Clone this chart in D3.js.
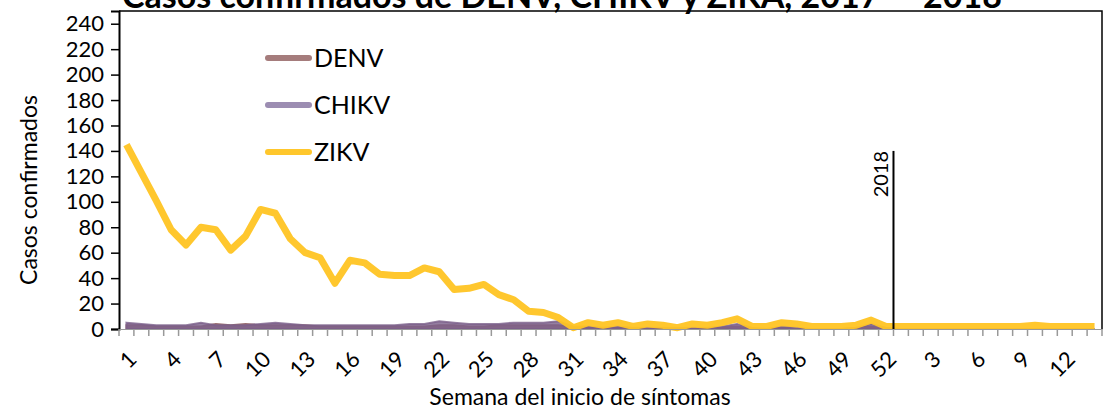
<!DOCTYPE html>
<html>
<head>
<meta charset="utf-8">
<script src="https://cdn.jsdelivr.net/npm/d3@7"></script>
<style>
    body { margin: 0; background: #fff; }
    text { font-family: Lato, "Open Sans", sans-serif; fill: #000; }
</style>
</head>
<body>
<div id="chart"></div>
<script>
// week labels, 2017 then 2018
const weeks2017 = d3.range(1, 53);
const weeks2018 = d3.range(1, 15);

// confirmed cases per week (2017 wk1-52, 2018 wk1-14)
const denv = [3,3,2,2,2,2,4,3,4,3,3,3,3,2,2,2,2,2,2,2,2,3,3,2,2,3,3,3,3,3,1,1,0,1,0,0,0,0,0,0,1,2,0,0,1,0,0,0,0,1,2,0,
              0,0,0,0,0,0,0,0,0,0,0,0,0,0];
const chikv = [5,4,3,3,3,5,3,3,3,4,5,4,3,3,3,3,3,3,3,4,4,6,5,4,4,4,5,5,5,6,2,2,1,2,1,1,1,1,1,1,2,4,1,0,2,1,0,0,0,1,4,1,
               0,0,0,0,0,0,0,0,0,0,0,0,0,0];
const zikv = [145,123,101,78,66,80,78,62,73,94,91,71,60,56,36,54,52,43,42,42,48,45,31,32,35,27,23,14,13,9,1,5,3,5,2,4,3,1,4,3,5,8,2,2,5,4,2,2,2,3,7,2,
              2,2,2,2,2,2,2,2,2,3,2,2,2,2];

const yTicks = d3.range(0, 241, 20);

const width = 1112;
const height = 411;
const margin = {top: 11, right: 10, bottom: 82, left: 119};

const svg = d3.select('#chart').append('svg').attr('width', width).attr('height', height);

// categories
const cats = weeks2017.map(w => '2017-' + w).concat(weeks2018.map(w => '2018-' + w));
const labelOf = {};
weeks2017.forEach(w => labelOf['2017-' + w] = w);
weeks2018.forEach(w => labelOf['2018-' + w] = w);

const x = d3.scaleBand().domain(cats).range([margin.left, width - margin.right]);
const y = d3.scaleLinear().domain([0, 250]).range([height - margin.bottom, margin.top]);
const cx = d => x(d) + x.bandwidth() / 2;

const series = [
    {name: 'DENV', values: denv, color: '#a57c7c'},
    {name: 'CHIKV', values: chikv, color: '#9c8db2'},
    {name: 'ZIKV', values: zikv, color: '#ffc72c'}
];

// title (partly cut off at top, as in the original)
svg.append('text')
    .attr('x', 562).attr('y', 8)
    .attr('text-anchor', 'middle')
    .style('font-size', '34px').style('font-weight', 'bold')
    .text('Casos confirmados de DENV, CHIKV y ZIKA, 2017 \u2014 2018');

// DENV and CHIKV as filled areas
const area = d3.area()
    .x((d, i) => cx(cats[i]))
    .y0(y(0))
    .y1(d => y(d));

svg.append('path').datum(denv)
    .attr('d', area)
    .attr('fill', '#9a6e72').attr('fill-opacity', 0.9)
    .attr('stroke', '#9a6e72').attr('stroke-width', 2);
svg.append('path').datum(chikv)
    .attr('d', area)
    .attr('fill', '#7a5f8a').attr('fill-opacity', 0.8)
    .attr('stroke', '#7a5f8a').attr('stroke-opacity', 0.8).attr('stroke-width', 2);

// ZIKV line
const line = d3.line()
    .x((d, i) => cx(cats[i]))
    .y(d => y(d));

svg.append('path').datum(zikv)
    .attr('d', line)
    .attr('fill', 'none')
    .attr('stroke', '#ffc423').attr('stroke-opacity', 0.95)
    .attr('stroke-width', 7)
    .attr('stroke-linejoin', 'round');

// frame: top and right
svg.append('path')
    .attr('d', `M${margin.left},${margin.top}H${width - margin.right}V${y(0)}`)
    .attr('fill', 'none').attr('stroke', '#000').attr('stroke-width', 1.5);

// y axis
const yAxis = svg.append('g')
    .attr('transform', `translate(${margin.left},0)`)
    .call(d3.axisLeft(y).tickValues(yTicks).tickSize(8).tickPadding(7));
yAxis.select('.domain').attr('stroke', '#000').attr('stroke-width', 2);
yAxis.selectAll('.tick line').attr('stroke', '#000').attr('stroke-width', 1.5);
yAxis.selectAll('.tick text').style('font-size', '22px').attr('fill', '#000');

// x axis
const xAxis = svg.append('g')
    .attr('transform', `translate(0,${y(0)})`)
    .call(d3.axisBottom(x).tickSize(0).tickFormat(''));
xAxis.select('.domain').attr('stroke', '#999').attr('stroke-width', 1);

// tick marks between categories
const bounds = d3.range(cats.length + 1).map(i => margin.left + i * x.step());
svg.append('g').selectAll('line')
    .data(bounds)
    .join('line')
    .attr('x1', d => d).attr('x2', d => d)
    .attr('y1', y(0)).attr('y2', y(0) + 7)
    .attr('stroke', '#999').attr('stroke-width', 1.5);

// x labels every 3 weeks
svg.append('g').selectAll('text')
    .data(cats.filter((d, i) => i % 3 === 0))
    .join('text')
    .attr('transform', d => `translate(${cx(d)},${y(0) + 20}) rotate(-45)`)
    .attr('text-anchor', 'end')
    .attr('dy', '0.75em')
    .style('font-size', '22px')
    .text(d => labelOf[d]);

// 2018 marker
const x2018 = x('2018-1');
svg.append('line')
    .attr('x1', x2018).attr('x2', x2018)
    .attr('y1', y(140)).attr('y2', y(0))
    .attr('stroke', '#000').attr('stroke-width', 2);
svg.append('text')
    .attr('transform', `translate(${x2018 - 5},${y(140)}) rotate(-90)`)
    .attr('text-anchor', 'end')
    .style('font-size', '20px')
    .text('2018');

// axis titles
svg.append('text')
    .attr('transform', `translate(37,${(y(0) + margin.top) / 2 + 20}) rotate(-90)`)
    .attr('text-anchor', 'middle')
    .style('font-size', '23px')
    .text('Casos confirmados');
svg.append('text')
    .attr('x', 580).attr('y', 405)
    .attr('text-anchor', 'middle')
    .style('font-size', '23px')
    .text('Semana del inicio de s\u00edntomas');

// legend
const legend = svg.append('g');
series.forEach((s, i) => {
    const ly = 58 + i * 47;
    legend.append('line')
        .attr('x1', 268).attr('x2', 309)
        .attr('y1', ly).attr('y2', ly)
        .attr('stroke', s.color).attr('stroke-width', 6)
        .attr('stroke-linecap', 'round');
    legend.append('text')
        .attr('x', 314).attr('y', ly)
        .attr('dy', '0.35em')
        .style('font-size', '25px')
        .text(s.name);
});
</script>
</body>
</html>
